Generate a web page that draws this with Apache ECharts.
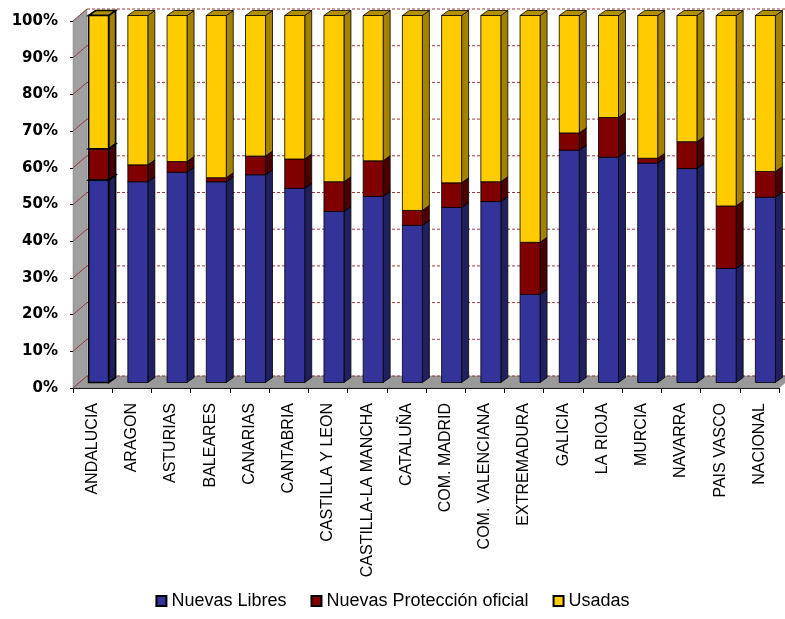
<!DOCTYPE html>
<html><head><meta charset="utf-8">
<script src="https://cdn.jsdelivr.net/npm/echarts@6/dist/echarts.min.js"></script>
<style>html,body{margin:0;padding:0;background:#fff}#c{width:785px;height:619px}</style>
</head><body><div id="c"></div>
<script>
const categories = ['ANDALUCIA','ARAGON','ASTURIAS','BALEARES','CANARIAS','CANTABRIA','CASTILLA Y LEON','CASTILLA-LA MANCHA','CATALUÑA','COM. MADRID','COM. VALENCIANA','EXTREMADURA','GALICIA','LA RIOJA','MURCIA','NAVARRA','PAIS VASCO','NACIONAL'];
const nuevasLibres = [55.2, 54.7, 57.3, 54.7, 56.6, 52.9, 46.6, 50.7, 42.8, 47.7, 49.3, 24.0, 63.3, 61.4, 59.8, 58.3, 31.1, 50.5];
const nuevasProteccion = [8.5, 4.6, 2.9, 1.1, 5.1, 8.0, 8.1, 9.7, 4.1, 6.7, 5.4, 14.2, 4.7, 10.8, 1.3, 7.3, 17.0, 7.0];
const usadas = [36.3, 40.7, 39.8, 44.2, 38.3, 39.1, 45.3, 39.6, 53.1, 45.6, 45.3, 61.8, 32.0, 27.8, 38.9, 34.4, 51.9, 42.5];
const yTicks = [0,10,20,30,40,50,60,70,80,90,100];
const seriesNames = ['Nuevas Libres','Nuevas Protección oficial','Usadas'];

const layers = [nuevasLibres, nuevasProteccion, usadas];
const faceColors = ['#333399','#800000','#FFCC00'];
const sideColors = ['#20205e','#4a0000','#A38200'];
const topColors = ['#2a2a80','#600000','#B39000'];

const WD = [14, -12];  // wall depth
const BD = [7, -5];    // bar depth
const BOFF = [6, -5.5];
const BW = 20;

const base = categories.map(() => 0);
const layerData = layers.map(arr => arr.map((v, i) => {
  const b = base[i]; base[i] += v; return [i, b, base[i]];
}));

function wallsRender(params, api) {
  const bw = api.size([1, 0])[0];
  const p0 = api.coord([0, 0]);
  const xl = p0[0] - bw / 2;
  const xr = api.coord([categories.length - 1, 0])[0] + bw / 2;
  const y0 = p0[1];
  const y100 = api.coord([0, 100])[1];
  const children = [];
  children.push({type:'polygon', shape:{points:[[xl,y0],[xl,y100],[xl+WD[0],y100+WD[1]],[xl+WD[0],y0+WD[1]]]}, style:{fill:'#A0A0A0', stroke:'#808080', lineWidth:0.5}});
  children.push({type:'polygon', shape:{points:[[xl,y0],[xr,y0],[xr+WD[0],y0+WD[1]],[xl+WD[0],y0+WD[1]]]}, style:{fill:'#999999', stroke:'#808080', lineWidth:0.5}});
  yTicks.forEach(v => {
    const y = api.coord([0, v])[1];
    children.push({type:'line', shape:{x1:xl+WD[0], y1:y+WD[1], x2:xr+WD[0], y2:y+WD[1]}, style:{stroke:'#9a3a3a', lineWidth:1, lineDash:[3,2]}});
    children.push({type:'line', shape:{x1:xl, y1:y, x2:xl+WD[0], y2:y+WD[1]}, style:{stroke:'#9a3a3a', lineWidth:1}});
  });
  return {type:'group', children};
}

function barRender(li) {
  return function (params, api) {
    const cb = api.coord([api.value(0), api.value(1)]);
    const ct = api.coord([api.value(0), api.value(2)]);
    const x0 = cb[0] + BOFF[0] - BW / 2, x1 = x0 + BW;
    const yb = cb[1] + BOFF[1], yt = ct[1] + BOFF[1];
    const st = {stroke:'#000', lineWidth: api.value(0) === 0 ? 1.6 : 0.8};
    return {type:'group', children:[
      {type:'polygon', shape:{points:[[x1,yb],[x1+BD[0],yb+BD[1]],[x1+BD[0],yt+BD[1]],[x1,yt]]}, style:Object.assign({fill:sideColors[li]}, st)},
      {type:'polygon', shape:{points:[[x0,yt],[x0+BD[0],yt+BD[1]],[x1+BD[0],yt+BD[1]],[x1,yt]]}, style:Object.assign({fill:topColors[li]}, st)},
      {type:'rect', shape:{x:x0, y:yt, width:BW, height:yb-yt}, style:Object.assign({fill:faceColors[li]}, st)}
    ]};
  };
}

const chart = echarts.init(document.getElementById('c'), null, {renderer:'canvas'});
const series = [{
  type:'custom', name:'walls', renderItem:wallsRender, data:[[0,0,0]], silent:true, z:1,
  encode:{x:0, y:2}
}];
layerData.forEach((d, li) => {
  series.push({type:'custom', name:seriesNames[li], renderItem:barRender(li), data:d, z:2,
    itemStyle:{color:faceColors[li], borderColor:'#000', borderWidth:1}, encode:{x:0, y:2}});
});

chart.setOption({
  backgroundColor:'#fff',
  animation:false,
  grid:{left:73, right:6, top:21, bottom:231, containLabel:false},
  legend:{data:seriesNames, bottom:4, left:'center', icon:'rect', itemWidth:10, itemHeight:10, itemGap:24,
    textStyle:{fontFamily:'Liberation Sans', fontSize:18, color:'#000'}},
  xAxis:{type:'category', data:categories, boundaryGap:true,
    axisLine:{lineStyle:{color:'#000', width:1}},
    axisTick:{show:true, length:5, interval:0, lineStyle:{color:'#000'}},
    axisLabel:{interval:0, rotate:90, margin:15, fontFamily:'Liberation Sans', fontSize:16, color:'#000'},
    splitLine:{show:false}},
  yAxis:{type:'value', min:0, max:100, interval:10,
    axisLine:{show:true, lineStyle:{color:'#000'}},
    axisTick:{show:true, length:3, lineStyle:{color:'#000'}},
    axisLabel:{formatter:'{value}%', margin:15, fontFamily:'DejaVu Sans', fontWeight:'bold', fontSize:15, color:'#000'},
    splitLine:{show:false}},
  series
});
</script></body></html>
